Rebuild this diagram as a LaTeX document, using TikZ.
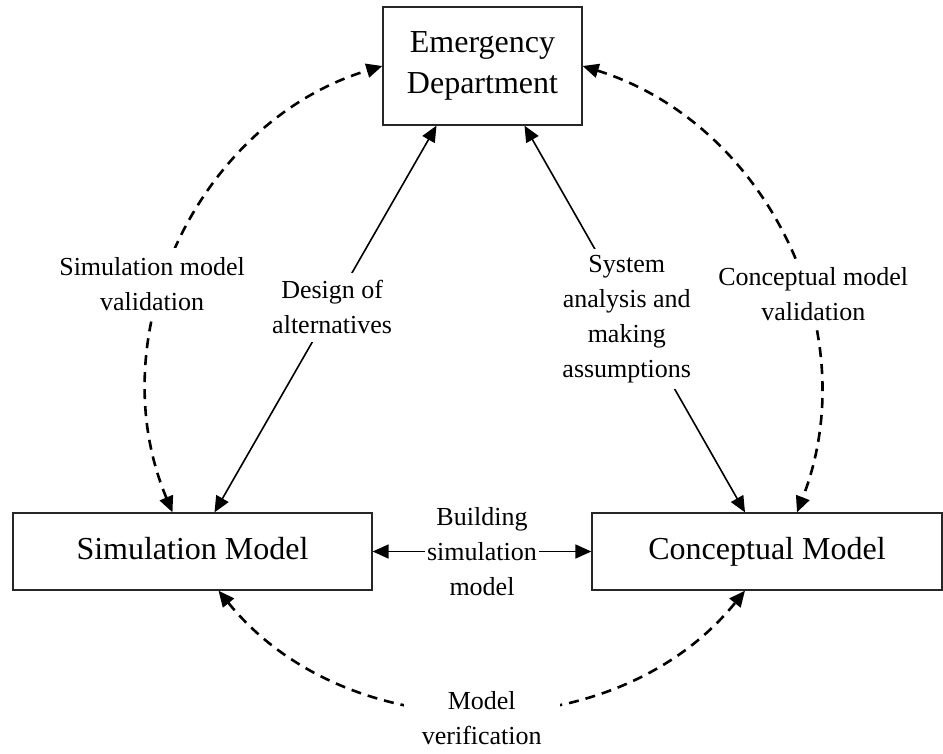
\documentclass[tikz,border=0pt]{standalone}
\usepackage{fontspec}
\setmainfont{Liberation Serif}
\usetikzlibrary{arrows.meta}
\begin{document}
\begin{tikzpicture}[x=1pt,y=-1pt,
  box/.style={draw=black!85, line width=1.3pt, align=center,
    font=\fontsize{32}{41}\selectfont, inner sep=0pt},
  onebox/.style={box, text height=22pt, text depth=7pt},
  link/.style={line width=1.6pt,
    arrows={Triangle[length=16pt,width=14pt]-Triangle[length=16pt,width=14pt]}},
  dlink/.style={link, line width=2.6pt, dash pattern=on 10pt off 7pt},
  lbl/.style={fill=white, align=center,
    font=\fontsize{26}{35}\selectfont, inner sep=4pt}]
\useasboundingbox (0,0) rectangle (943,753);

% the three blocks
\node[box, minimum width=199pt, minimum height=118pt] (ed) at (482.5,66) {Emergency\\Department};
\node[onebox, minimum width=359pt, minimum height=77pt] (sim) at (192.5,551.5) {Simulation Model};
\node[onebox, minimum width=350pt, minimum height=77pt] (con) at (767,551.5) {Conceptual Model};

% solid connectors
\draw[link] ([xshift=-46pt]ed.south) -- node[lbl, pos=0.47, inner sep=8pt] {Design of\\alternatives} ([xshift=22pt]sim.north);
\draw[link] ([xshift=42pt]ed.south) -- node[lbl, pos=0.5, xshift=-8pt, inner sep=6pt] {System\\analysis and\\making\\assumptions} ([xshift=-22pt]con.north);
\draw[link] (sim.east) -- node[lbl, inner xsep=2pt] {Building\\simulation\\model} (con.west);

% dashed validation / verification arcs
\draw[dlink] ([xshift=-20pt]sim.north) to[bend left=48]
  node[lbl, pos=0.42, xshift=-12pt, inner ysep=9pt] {Simulation model\\validation} (ed.west);
\draw[dlink] (ed.east) to[bend left=47]
  node[lbl, pos=0.6, xshift=8pt] {Conceptual model\\validation} ([xshift=30pt]con.north);
\draw[dlink] ([xshift=26pt]sim.south) to[bend right=51]
  node[lbl, pos=0.5, yshift=-8pt, inner xsep=18pt] {Model\\verification} ([xshift=-22pt]con.south);
\end{tikzpicture}
\end{document}
